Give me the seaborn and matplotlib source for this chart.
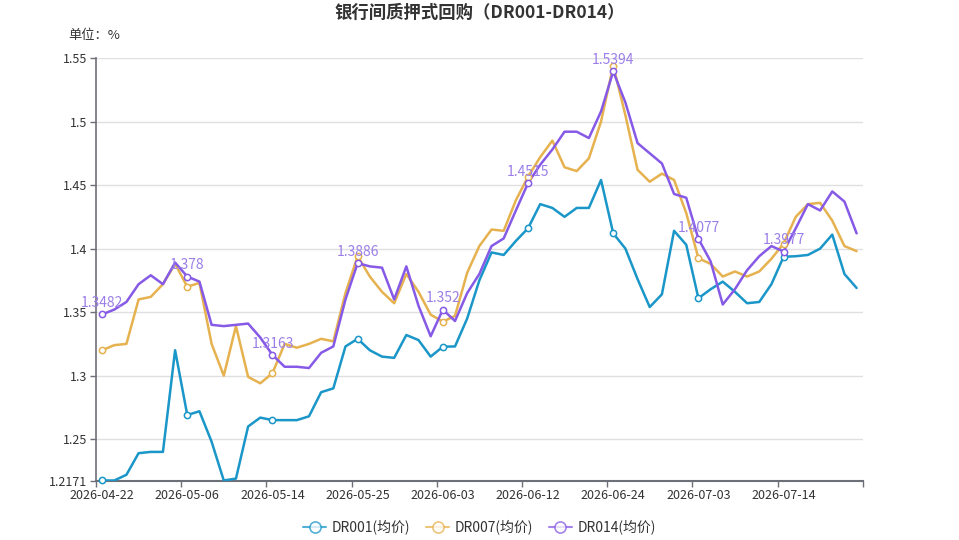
import matplotlib
matplotlib.use("Agg")
import matplotlib.pyplot as plt
import seaborn as sns
import pandas as pd
from matplotlib.lines import Line2D

dates = [
    "2026-04-22", "2026-04-23", "2026-04-24", "2026-04-27", "2026-04-28", "2026-04-29", "2026-04-30",
    "2026-05-06", "2026-05-07", "2026-05-08", "2026-05-09", "2026-05-11", "2026-05-12", "2026-05-13",
    "2026-05-14", "2026-05-15", "2026-05-18", "2026-05-19", "2026-05-20", "2026-05-21", "2026-05-22",
    "2026-05-25", "2026-05-26", "2026-05-27", "2026-05-28", "2026-05-29", "2026-06-01", "2026-06-02",
    "2026-06-03", "2026-06-04", "2026-06-05", "2026-06-08", "2026-06-09", "2026-06-10", "2026-06-11",
    "2026-06-12", "2026-06-15", "2026-06-16", "2026-06-17", "2026-06-18", "2026-06-22", "2026-06-23",
    "2026-06-24", "2026-06-25", "2026-06-26", "2026-06-29", "2026-06-30", "2026-07-01", "2026-07-02",
    "2026-07-03", "2026-07-06", "2026-07-07", "2026-07-08", "2026-07-09", "2026-07-10", "2026-07-13",
    "2026-07-14", "2026-07-15", "2026-07-16", "2026-07-17", "2026-07-20", "2026-07-21", "2026-07-22",
]

dr001 = [
    1.2175, 1.2175, 1.222, 1.239, 1.240, 1.240, 1.320,
    1.269, 1.272, 1.248, 1.2175, 1.219, 1.260, 1.267,
    1.265, 1.265, 1.265, 1.268, 1.287, 1.290, 1.323,
    1.329, 1.320, 1.315, 1.314, 1.332, 1.328, 1.315,
    1.3228, 1.323, 1.345, 1.375, 1.397, 1.395, 1.406,
    1.416, 1.435, 1.432, 1.425, 1.432, 1.432, 1.454,
    1.412, 1.400, 1.376, 1.354, 1.364, 1.414, 1.403,
    1.3609, 1.368, 1.374, 1.366, 1.357, 1.358, 1.372,
    1.3936, 1.394, 1.395, 1.400, 1.411, 1.380, 1.369,
]

dr007 = [
    1.320, 1.324, 1.325, 1.360, 1.362, 1.372, 1.388,
    1.370, 1.373, 1.325, 1.300, 1.339, 1.299, 1.294,
    1.302, 1.325, 1.322, 1.325, 1.329, 1.327, 1.365,
    1.394, 1.378, 1.366, 1.357, 1.380, 1.366, 1.348,
    1.3425, 1.347, 1.381, 1.402, 1.415, 1.414, 1.438,
    1.4566, 1.472, 1.485, 1.464, 1.461, 1.471, 1.500,
    1.544, 1.505, 1.462, 1.4526, 1.459, 1.454, 1.428,
    1.3924, 1.388, 1.378, 1.382, 1.378, 1.382, 1.392,
    1.404, 1.425, 1.435, 1.436, 1.422, 1.402, 1.398,
]

dr014 = [
    1.3482, 1.352, 1.358, 1.372, 1.379, 1.372, 1.389,
    1.378, 1.374, 1.340, 1.339, 1.340, 1.341, 1.330,
    1.3163, 1.307, 1.307, 1.306, 1.318, 1.323, 1.360,
    1.3886, 1.386, 1.385, 1.360, 1.386, 1.355, 1.331,
    1.352, 1.343, 1.365, 1.380, 1.402, 1.408, 1.430,
    1.4515, 1.466, 1.478, 1.492, 1.492, 1.487, 1.508,
    1.5394, 1.515, 1.483, 1.475, 1.467, 1.443, 1.440,
    1.4077, 1.390, 1.356, 1.368, 1.383, 1.394, 1.402,
    1.3977, 1.416, 1.435, 1.430, 1.445, 1.437, 1.412,
]

series_names = ["DR001(均价)", "DR007(均价)", "DR014(均价)"]
yticks = [1.2171, 1.25, 1.3, 1.35, 1.4, 1.45, 1.5, 1.55]
ytick_labels = ["1.2171", "1.25", "1.3", "1.35", "1.4", "1.45", "1.5", "1.55"]
title = "银行间质押式回购（DR001-DR014）"
unit = "单位：%"

colors = ["#1a96c8", "#e6b24f", "#865ae6"]
label_color = "#9b7ee8"
step = 7

sns.set_theme(style="white")
plt.rcParams['font.family'] = ['Noto Sans CJK SC', 'DejaVu Sans']

n = len(dates)
idx = list(range(n))
df = pd.DataFrame({"idx": idx, series_names[0]: dr001, series_names[1]: dr007, series_names[2]: dr014})

fig = plt.figure(figsize=(9.59, 5.4), dpi=100)
ax = fig.add_axes([96 / 959, 1 - 481 / 540, (862.7 - 96) / 959, (481 - 58) / 540])

ax.set_xlim(-0.5, n - 0.5)
ax.set_ylim(yticks[0], yticks[-1])

for y in yticks[1:]:
    ax.axhline(y, color="#e0e0e0", lw=1, zorder=0)

mark_idx = list(range(0, n - 1, step))
for name, c in zip(series_names, colors):
    sns.lineplot(data=df, x="idx", y=name, color=c, lw=1.8, ax=ax, zorder=3,
                 solid_joinstyle="round", solid_capstyle="round")
    sub = df.iloc[mark_idx]
    ax.plot(sub["idx"], sub[name], ls="none", marker="o", ms=4.5, mfc="white",
            mec=c, mew=1.1, zorder=4, clip_on=False)

for i in mark_idx:
    v = dr014[i]
    ax.annotate(f"{v:g}", (i, v), xytext=(0, 3), textcoords="offset points",
                ha="center", va="bottom", color=label_color, fontsize=10, zorder=5,
                annotation_clip=False)

# axes styling
for s in ["top", "right"]:
    ax.spines[s].set_visible(False)
ax.spines["left"].set_color("#6e7079")
ax.spines["left"].set_linewidth(1.2)
ax.spines["bottom"].set_color("#6e7079")
ax.spines["bottom"].set_linewidth(1.5)

ax.set_yticks(yticks)
ax.set_yticklabels(ytick_labels)
ax.tick_params(axis="y", length=4, width=1, color="#6e7079", labelsize=9, labelcolor="#333333", pad=2, left=True)

boundaries = [i - 0.5 for i in range(0, n + 1, step)]
if boundaries[-1] != n - 0.5:
    boundaries.append(n - 0.5)
ax.set_xticks(boundaries)
ax.set_xticklabels([""] * len(boundaries))
ax.tick_params(axis="x", which="major", length=4, width=1, color="#6e7079", bottom=True)
ax.set_xticks(mark_idx, minor=True)
ax.set_xticklabels([dates[i] for i in mark_idx], minor=True)
ax.tick_params(axis="x", which="minor", length=0, labelsize=9, labelcolor="#333333", pad=5.5)
ax.set_xlabel("")
ax.set_ylabel("")

fig.text(0.5, 1 - 13 / 540, title, ha="center", va="center", fontsize=12.5,
         fontweight="bold", color="#333333")
fig.text(68 / 959, 1 - 35 / 540, unit, ha="left", va="center", fontsize=9.5, color="#333333")

handles = [Line2D([0], [0], color=c, lw=1.5, marker="o", ms=8, mfc="white", mec=c, mew=1.2, alpha=0.75)
           for c in colors]
fig.legend(handles, series_names, loc="center", bbox_to_anchor=(0.5, 1 - 527 / 540), ncol=3,
           frameon=False, fontsize=10, handlelength=1.7, handletextpad=0.4, columnspacing=1.1,
           labelcolor="#333333")

fig.savefig("out.png", dpi=100)
